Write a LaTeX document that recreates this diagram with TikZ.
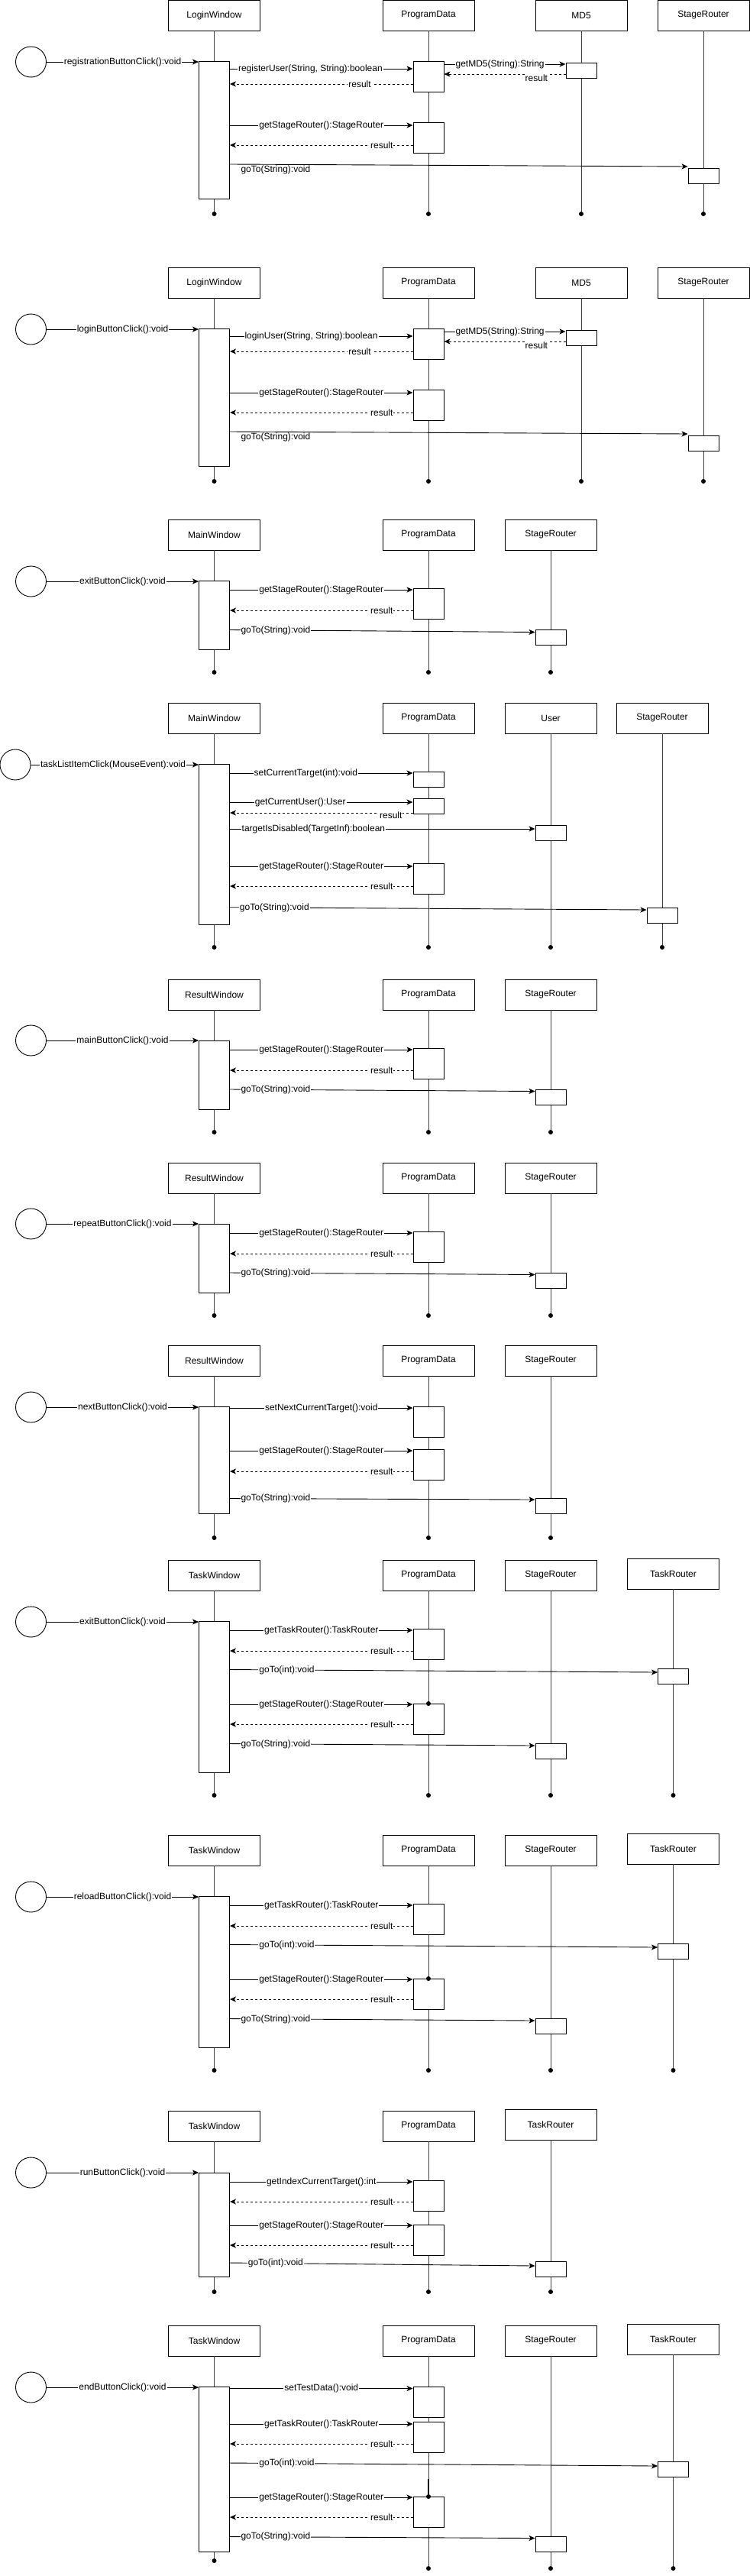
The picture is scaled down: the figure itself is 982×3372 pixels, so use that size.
\documentclass[tikz,border=0pt]{standalone}
\usepackage{fontspec}
\setmainfont{Liberation Sans}
\usetikzlibrary{arrows.meta}

\tikzset{
	obj/.style={draw, minimum width=120pt, minimum height=40pt, inner sep=0pt, font=\fontsize{12}{14}\selectfont},
	act/.style={draw, fill=white, minimum width=40pt, inner sep=0pt},
	actor/.style={draw, circle, minimum size=40pt, inner sep=0pt},
	enddot/.style={circle, fill, inner sep=0pt, minimum size=6pt},
	life/.style={draw=black!75},
	msg/.style={-{Stealth[length=8pt,width=7pt,inset=2pt]}},
	ret/.style={msg, dash pattern=on 3pt off 3pt},
	lbl/.style={fill=white, inner sep=1pt, font=\fontsize{12}{14}\selectfont},
}

\begin{document}
\begin{tikzpicture}[x=1pt,y=-1pt,line width=0.9pt]
	\useasboundingbox (0,0) rectangle (982,3372);

	\begin{scope}
		\node[obj] (win1) at (280.5,20) {LoginWindow};
		\node[obj] (data1) at (561,20) {ProgramData};
		\node[obj] (md51) at (761,20) {MD5};
		\node[obj] (stage1) at (921,20) {StageRouter};
		\node[enddot] (win1e) at (280.5,280) {};
		\node[enddot] (data1e) at (561,280) {};
		\node[enddot] (md51e) at (761,280) {};
		\node[enddot] (stage1e) at (921,280) {};
		\draw[life] (win1) -- (win1e);
		\draw[life] (data1) -- (data1e);
		\draw[life] (md51) -- (md51e);
		\draw[life] (stage1) -- (stage1e);
		\node[actor] (btn1) at (40.5,81) {};
		\node[act, minimum height=180pt] (win1a) at (280.5,170) {};
		\node[act, minimum height=40pt] (data1a) at (561,100) {};
		\node[act, minimum height=20pt] (md51a) at (761,92) {};
		\node[act, minimum height=40pt] (data1b) at (561,180) {};
		\node[act, minimum height=20pt] (stage1a) at (921,230) {};
		\draw[msg] (btn1) -- (win1a.west |- btn1) node[lbl,pos=.5]{registrationButtonClick():void};
		\draw[msg] (win1a.east |- 0,90) -- (data1a.west |- 0,90) node[lbl,pos=.44]{registerUser(String, String):boolean};
		\draw[ret] (data1a.west |- 0,110) -- (win1a.east |- 0,110) node[lbl,pos=.29]{result};
		\draw[msg] (data1a.east |- 0,84) -- (md51a.west |- 0,84) node[lbl,pos=.46]{getMD5(String):String};
		\draw[ret] (md51a.west |- 0,97) -- (data1a.east |- 0,97) node[lbl,pos=.24,yshift=-5pt]{result};
		\draw[msg] (win1a.east |- 0,164) -- (data1b.west |- 0,164) node[lbl,pos=.5]{getStageRouter():StageRouter};
		\draw[ret] (data1b.west |- 0,190) -- (win1a.east |- 0,190) node[lbl,pos=.17]{result};
		\draw[msg] (win1a.east |- 0,215) -- (stage1a.west |- 0,218) node[lbl,pos=.1,yshift=-7pt,fill=none]{goTo(String):void};
	\end{scope}

	\begin{scope}[yshift=-350pt]
		\node[obj] (win2) at (280.5,20) {LoginWindow};
		\node[obj] (data2) at (561,20) {ProgramData};
		\node[obj] (md52) at (761,20) {MD5};
		\node[obj] (stage2) at (921,20) {StageRouter};
		\node[enddot] (win2e) at (280.5,280) {};
		\node[enddot] (data2e) at (561,280) {};
		\node[enddot] (md52e) at (761,280) {};
		\node[enddot] (stage2e) at (921,280) {};
		\draw[life] (win2) -- (win2e);
		\draw[life] (data2) -- (data2e);
		\draw[life] (md52) -- (md52e);
		\draw[life] (stage2) -- (stage2e);
		\node[actor] (btn2) at (40.5,81) {};
		\node[act, minimum height=180pt] (win2a) at (280.5,170) {};
		\node[act, minimum height=40pt] (data2a) at (561,100) {};
		\node[act, minimum height=20pt] (md52a) at (761,92) {};
		\node[act, minimum height=40pt] (data2b) at (561,180) {};
		\node[act, minimum height=20pt] (stage2a) at (921,230) {};
		\draw[msg] (btn2) -- (win2a.west |- btn2) node[lbl,pos=.5]{loginButtonClick():void};
		\draw[msg] (win2a.east |- 0,90) -- (data2a.west |- 0,90) node[lbl,pos=.445]{loginUser(String, String):boolean};
		\draw[ret] (data2a.west |- 0,110) -- (win2a.east |- 0,110) node[lbl,pos=.29]{result};
		\draw[msg] (data2a.east |- 0,84) -- (md52a.west |- 0,84) node[lbl,pos=.46]{getMD5(String):String};
		\draw[ret] (md52a.west |- 0,97) -- (data2a.east |- 0,97) node[lbl,pos=.24,yshift=-5pt]{result};
		\draw[msg] (win2a.east |- 0,164) -- (data2b.west |- 0,164) node[lbl,pos=.5]{getStageRouter():StageRouter};
		\draw[ret] (data2b.west |- 0,190) -- (win2a.east |- 0,190) node[lbl,pos=.17]{result};
		\draw[msg] (win2a.east |- 0,215) -- (stage2a.west |- 0,218) node[lbl,pos=.1,yshift=-7pt,fill=none]{goTo(String):void};
	\end{scope}

	\begin{scope}[yshift=-680pt]
		\node[obj] (win3) at (280.5,20) {MainWindow};
		\node[obj] (data3) at (561,20) {ProgramData};
		\node[obj] (stage3) at (721,20) {StageRouter};
		\node[enddot] (win3e) at (280.5,200) {};
		\node[enddot] (data3e) at (561,200) {};
		\node[enddot] (stage3e) at (721,200) {};
		\draw[life] (win3) -- (win3e);
		\draw[life] (data3) -- (data3e);
		\draw[life] (stage3) -- (stage3e);
		\node[actor] (btn3) at (40.5,81) {};
		\node[act, minimum height=90pt] (win3a) at (280.5,125) {};
		\node[act, minimum height=40pt] (data3a) at (561,110) {};
		\node[act, minimum height=20pt] (stage3a) at (721,154) {};
		\draw[msg] (btn3) -- (win3a.west |- btn3) node[lbl,pos=.5]{exitButtonClick():void};
		\draw[msg] (win3a.east |- 0,92) -- (data3a.west |- 0,92) node[lbl,pos=.5]{getStageRouter():StageRouter};
		\draw[ret] (data3a.west |- 0,119) -- (win3a.east |- 0,119) node[lbl,pos=.17]{result};
		\draw[msg] (win3a.east |- 0,144.5) -- (stage3a.west |- 0,147.5) node[lbl,pos=.15]{goTo(String):void};
	\end{scope}

	\begin{scope}[yshift=-920pt]
		\node[obj] (win4) at (280.5,20) {MainWindow};
		\node[obj] (data4) at (561,20) {ProgramData};
		\node[obj] (user4) at (721,20) {User};
		\node[obj] (stage4) at (867,20) {StageRouter};
		\node[enddot] (win4e) at (280.5,320) {};
		\node[enddot] (data4e) at (561,320) {};
		\node[enddot] (user4e) at (721,320) {};
		\node[enddot] (stage4e) at (867,320) {};
		\draw[life] (win4) -- (win4e);
		\draw[life] (data4) -- (data4e);
		\draw[life] (user4) -- (user4e);
		\draw[life] (stage4) -- (stage4e);
		\node[actor] (btn4) at (20,81) {};
		\node[act, minimum height=210pt] (win4a) at (280.5,185) {};
		\node[act, minimum height=20pt] (data4a) at (561,100) {};
		\node[act, minimum height=20pt] (data4b) at (561,135) {};
		\node[act, minimum height=20pt] (user4a) at (721,170) {};
		\node[act, minimum height=40pt] (data4c) at (561,230) {};
		\node[act, minimum height=20pt] (stage4a) at (867,278.7) {};
		\draw[msg] (btn4) -- (win4a.west |- btn4) node[lbl,pos=.49]{taskListItemClick(MouseEvent):void};
		\draw[msg] (win4a.east |- 0,92) -- (data4a.west |- 0,92) node[lbl,pos=.415]{setCurrentTarget(int):void};
		\draw[msg] (win4a.east |- 0,130) -- (data4b.west |- 0,130) node[lbl,pos=.385]{getCurrentUser():User};
		\draw[ret] (data4b.west |- 0,144) -- (win4a.east |- 0,144) node[lbl,pos=.12,yshift=-3pt]{result};
		\draw[msg] (win4a.east |- 0,165) -- (user4a.west |- 0,165) node[lbl,pos=.274]{targetIsDisabled(TargetInf):boolean};
		\draw[msg] (win4a.east |- 0,214) -- (data4c.west |- 0,214) node[lbl,pos=.5]{getStageRouter():StageRouter};
		\draw[ret] (data4c.west |- 0,240) -- (win4a.east |- 0,240) node[lbl,pos=.17]{result};
		\draw[msg] (win4a.east |- 0,267.7) -- (stage4a.west |- 0,271) node[lbl,pos=.107]{goTo(String):void};
	\end{scope}

	\begin{scope}[yshift=-1282pt]
		\node[obj] (win5) at (280.5,20) {ResultWindow};
		\node[obj] (data5) at (561,20) {ProgramData};
		\node[obj] (stage5) at (721,20) {StageRouter};
		\node[enddot] (win5e) at (280.5,200) {};
		\node[enddot] (data5e) at (561,200) {};
		\node[enddot] (stage5e) at (721,200) {};
		\draw[life] (win5) -- (win5e);
		\draw[life] (data5) -- (data5e);
		\draw[life] (stage5) -- (stage5e);
		\node[actor] (btn5) at (40.5,80) {};
		\node[act, minimum height=90pt] (win5a) at (280.5,125) {};
		\node[act, minimum height=40pt] (data5a) at (561,110) {};
		\node[act, minimum height=20pt] (stage5a) at (721,154) {};
		\draw[msg] (btn5) -- (win5a.west |- btn5) node[lbl,pos=.5]{mainButtonClick():void};
		\draw[msg] (win5a.east |- 0,92) -- (data5a.west |- 0,92) node[lbl,pos=.5]{getStageRouter():StageRouter};
		\draw[ret] (data5a.west |- 0,119) -- (win5a.east |- 0,119) node[lbl,pos=.17]{result};
		\draw[msg] (win5a.east |- 0,144) -- (stage5a.west |- 0,146.5) node[lbl,pos=.15]{goTo(String):void};
	\end{scope}

	\begin{scope}[yshift=-1522pt]
		\node[obj] (win6) at (280.5,20) {ResultWindow};
		\node[obj] (data6) at (561,20) {ProgramData};
		\node[obj] (stage6) at (721,20) {StageRouter};
		\node[enddot] (win6e) at (280.5,200) {};
		\node[enddot] (data6e) at (561,200) {};
		\node[enddot] (stage6e) at (721,200) {};
		\draw[life] (win6) -- (win6e);
		\draw[life] (data6) -- (data6e);
		\draw[life] (stage6) -- (stage6e);
		\node[actor] (btn6) at (40.5,80) {};
		\node[act, minimum height=90pt] (win6a) at (280.5,125) {};
		\node[act, minimum height=40pt] (data6a) at (561,110) {};
		\node[act, minimum height=20pt] (stage6a) at (721,154) {};
		\draw[msg] (btn6) -- (win6a.west |- btn6) node[lbl,pos=.5]{repeatButtonClick():void};
		\draw[msg] (win6a.east |- 0,92) -- (data6a.west |- 0,92) node[lbl,pos=.5]{getStageRouter():StageRouter};
		\draw[ret] (data6a.west |- 0,119) -- (win6a.east |- 0,119) node[lbl,pos=.17]{result};
		\draw[msg] (win6a.east |- 0,144) -- (stage6a.west |- 0,146.5) node[lbl,pos=.15]{goTo(String):void};
	\end{scope}

	\begin{scope}[yshift=-1761pt]
		\node[obj] (win7) at (280.5,20) {ResultWindow};
		\node[obj] (data7) at (561,20) {ProgramData};
		\node[obj] (stage7) at (721,20) {StageRouter};
		\node[enddot] (win7e) at (280.5,252) {};
		\node[enddot] (data7e) at (561,252) {};
		\node[enddot] (stage7e) at (721,252) {};
		\draw[life] (win7) -- (win7e);
		\draw[life] (data7) -- (data7e);
		\draw[life] (stage7) -- (stage7e);
		\node[actor] (btn7) at (40.5,81) {};
		\node[act, minimum height=140pt] (win7a) at (280.5,150) {};
		\node[act, minimum height=40pt] (data7a) at (561,100) {};
		\node[act, minimum height=40pt] (data7b) at (561,156) {};
		\node[act, minimum height=20pt] (stage7a) at (721,210) {};
		\draw[msg] (btn7) -- (win7a.west |- btn7) node[lbl,pos=.5]{nextButtonClick():void};
		\draw[msg] (win7a.east |- 0,82) -- (data7a.west |- 0,82) node[lbl,pos=.5]{setNextCurrentTarget():void};
		\draw[msg] (win7a.east |- 0,138) -- (data7b.west |- 0,138) node[lbl,pos=.5]{getStageRouter():StageRouter};
		\draw[ret] (data7b.west |- 0,165) -- (win7a.east |- 0,165) node[lbl,pos=.17]{result};
		\draw[msg] (win7a.east |- 0,200.5) -- (stage7a.west |- 0,202) node[lbl,pos=.15]{goTo(String):void};
	\end{scope}

	\begin{scope}[yshift=-2042pt]
		\node[obj] (win8) at (280.5,20) {TaskWindow};
		\node[obj] (data8) at (561,20) {ProgramData};
		\node[obj] (stage8) at (721,20) {StageRouter};
		\node[obj] (task8) at (881.5,18) {TaskRouter};
		\node[enddot] (win8e) at (280.5,308) {};
		\node[enddot] (data8e) at (561,308) {};
		\node[enddot] (stage8e) at (721,308) {};
		\node[enddot] (task8e) at (881.5,308) {};
		\draw[life] (win8) -- (win8e);
		\draw[life] (data8) -- (data8e);
		\draw[life] (stage8) -- (stage8e);
		\draw[life] (task8) -- (task8e);
		\node[actor] (btn8) at (40.5,81) {};
		\node[act, minimum height=198pt] (win8a) at (280.5,179) {};
		\node[act, minimum height=40pt] (data8a) at (561,110) {};
		\node[act, minimum height=20pt] (task8a) at (881.5,152) {};
		\node[act, minimum height=40pt] (data8b) at (561,208) {};
		\node[act, minimum height=20pt] (stage8a) at (721,250) {};
		\node[enddot] (data8x) at (561,188) {};
		\draw[msg] (btn8) -- (win8a.west |- btn8) node[lbl,pos=.5]{exitButtonClick():void};
		\draw[msg] (win8a.east |- 0,92) -- (data8a.west |- 0,92) node[lbl,pos=.5]{getTaskRouter():TaskRouter};
		\draw[ret] (data8a.west |- 0,119) -- (win8a.east |- 0,119) node[lbl,pos=.17]{result};
		\draw[msg] (win8a.east |- 0,143.5) -- (task8a.west |- 0,147) node[lbl,pos=.133]{goTo(int):void};
		\draw[msg] (win8a.east |- 0,189) -- (data8b.west |- 0,189) node[lbl,pos=.5]{getStageRouter():StageRouter};
		\draw[ret] (data8b.west |- 0,215) -- (win8a.east |- 0,215) node[lbl,pos=.17]{result};
		\draw[msg] (win8a.east |- 0,240.5) -- (stage8a.west |- 0,243) node[lbl,pos=.15]{goTo(String):void};
	\end{scope}

	\begin{scope}[yshift=-2402pt]
		\node[obj] (win9) at (280.5,20) {TaskWindow};
		\node[obj] (data9) at (561,20) {ProgramData};
		\node[obj] (stage9) at (721,20) {StageRouter};
		\node[obj] (task9) at (881.5,18) {TaskRouter};
		\node[enddot] (win9e) at (280.5,308) {};
		\node[enddot] (data9e) at (561,308) {};
		\node[enddot] (stage9e) at (721,308) {};
		\node[enddot] (task9e) at (881.5,308) {};
		\draw[life] (win9) -- (win9e);
		\draw[life] (data9) -- (data9e);
		\draw[life] (stage9) -- (stage9e);
		\draw[life] (task9) -- (task9e);
		\node[actor] (btn9) at (40.5,81) {};
		\node[act, minimum height=198pt] (win9a) at (280.5,179) {};
		\node[act, minimum height=40pt] (data9a) at (561,110) {};
		\node[act, minimum height=20pt] (task9a) at (881.5,152) {};
		\node[act, minimum height=40pt] (data9b) at (561,208) {};
		\node[act, minimum height=20pt] (stage9a) at (721,250) {};
		\node[enddot] (data9x) at (561,188) {};
		\draw[msg] (btn9) -- (win9a.west |- btn9) node[lbl,pos=.5]{reloadButtonClick():void};
		\draw[msg] (win9a.east |- 0,92) -- (data9a.west |- 0,92) node[lbl,pos=.5]{getTaskRouter():TaskRouter};
		\draw[ret] (data9a.west |- 0,119) -- (win9a.east |- 0,119) node[lbl,pos=.17]{result};
		\draw[msg] (win9a.east |- 0,143.5) -- (task9a.west |- 0,147) node[lbl,pos=.133]{goTo(int):void};
		\draw[msg] (win9a.east |- 0,189) -- (data9b.west |- 0,189) node[lbl,pos=.5]{getStageRouter():StageRouter};
		\draw[ret] (data9b.west |- 0,215) -- (win9a.east |- 0,215) node[lbl,pos=.17]{result};
		\draw[msg] (win9a.east |- 0,240.5) -- (stage9a.west |- 0,243) node[lbl,pos=.15]{goTo(String):void};
	\end{scope}

	\begin{scope}[yshift=-2763pt]
		\node[obj] (win10) at (280.5,20) {TaskWindow};
		\node[obj] (data10) at (561,20) {ProgramData};
		\node[obj] (task10) at (721,18) {TaskRouter};
		\node[enddot] (win10e) at (280.5,237) {};
		\node[enddot] (data10e) at (561,237) {};
		\node[enddot] (task10e) at (721,237) {};
		\draw[life] (win10) -- (win10e);
		\draw[life] (data10) -- (data10e);
		\draw[life] (task10) -- (task10e);
		\node[actor] (btn10) at (40.5,81) {};
		\node[act, minimum height=136pt] (win10a) at (280.5,149) {};
		\node[act, minimum height=40pt] (data10a) at (561,111) {};
		\node[act, minimum height=40pt] (data10b) at (561,169) {};
		\node[act, minimum height=20pt] (task10a) at (721,207) {};
		\draw[msg] (btn10) -- (win10a.west |- btn10) node[lbl,pos=.5]{runButtonClick():void};
		\draw[msg] (win10a.east |- 0,93) -- (data10a.west |- 0,93) node[lbl,pos=.5]{getIndexCurrentTarget():int};
		\draw[ret] (data10a.west |- 0,119) -- (win10a.east |- 0,119) node[lbl,pos=.17]{result};
		\draw[msg] (win10a.east |- 0,150) -- (data10b.west |- 0,150) node[lbl,pos=.5]{getStageRouter():StageRouter};
		\draw[ret] (data10b.west |- 0,176) -- (win10a.east |- 0,176) node[lbl,pos=.17]{result};
		\draw[msg] (win10a.east |- 0,199) -- (task10a.west |- 0,203) node[lbl,pos=.15]{goTo(int):void};
	\end{scope}

	\begin{scope}[yshift=-3044pt]
		\node[obj] (win11) at (280.5,20) {TaskWindow};
		\node[obj] (data11) at (561,20) {ProgramData};
		\node[obj] (stage11) at (721,20) {StageRouter};
		\node[obj] (task11) at (881.5,18) {TaskRouter};
		\node[enddot] (win11e) at (280.5,308) {};
		\node[enddot] (data11e) at (561,318) {};
		\node[enddot] (stage11e) at (721,318) {};
		\node[enddot] (task11e) at (881.5,318) {};
		\draw[life] (win11) -- (win11e);
		\draw[life] (data11) -- (data11e);
		\draw[life] (stage11) -- (stage11e);
		\draw[life] (task11) -- (task11e);
		\node[actor] (btn11) at (40.5,81) {};
		\node[act, minimum height=216pt] (win11a) at (280.5,188) {};
		\node[act, minimum height=40pt] (data11a) at (561,100) {};
		\node[act, minimum height=40pt] (data11b) at (561,146) {};
		\node[act, minimum height=20pt] (task11a) at (881.5,188) {};
		\node[act, minimum height=40pt] (data11c) at (561,244) {};
		\node[act, minimum height=20pt] (stage11a) at (721,286) {};
		\coordinate (data11y) at (561,201);
		\node[enddot] (data11x) at (561,224) {};
		\draw[line width=1.4pt] (data11y) -- (data11x);
		\draw[msg] (btn11) -- (win11a.west |- btn11) node[lbl,pos=.5]{endButtonClick():void};
		\draw[msg] (win11a.east |- 0,82.5) -- (data11a.west |- 0,82.5) node[lbl,pos=.5]{setTestData():void};
		\draw[msg] (win11a.east |- 0,129) -- (data11b.west |- 0,129) node[lbl,pos=.5]{getTaskRouter():TaskRouter};
		\draw[ret] (data11b.west |- 0,155) -- (win11a.east |- 0,155) node[lbl,pos=.17]{result};
		\draw[msg] (win11a.east |- 0,180) -- (task11a.west |- 0,184) node[lbl,pos=.133]{goTo(int):void};
		\draw[msg] (win11a.east |- 0,225) -- (data11c.west |- 0,225) node[lbl,pos=.5]{getStageRouter():StageRouter};
		\draw[ret] (data11c.west |- 0,251) -- (win11a.east |- 0,251) node[lbl,pos=.17]{result};
		\draw[msg] (win11a.east |- 0,276.5) -- (stage11a.west |- 0,278.5) node[lbl,pos=.15]{goTo(String):void};
	\end{scope}
\end{tikzpicture}
\end{document}
